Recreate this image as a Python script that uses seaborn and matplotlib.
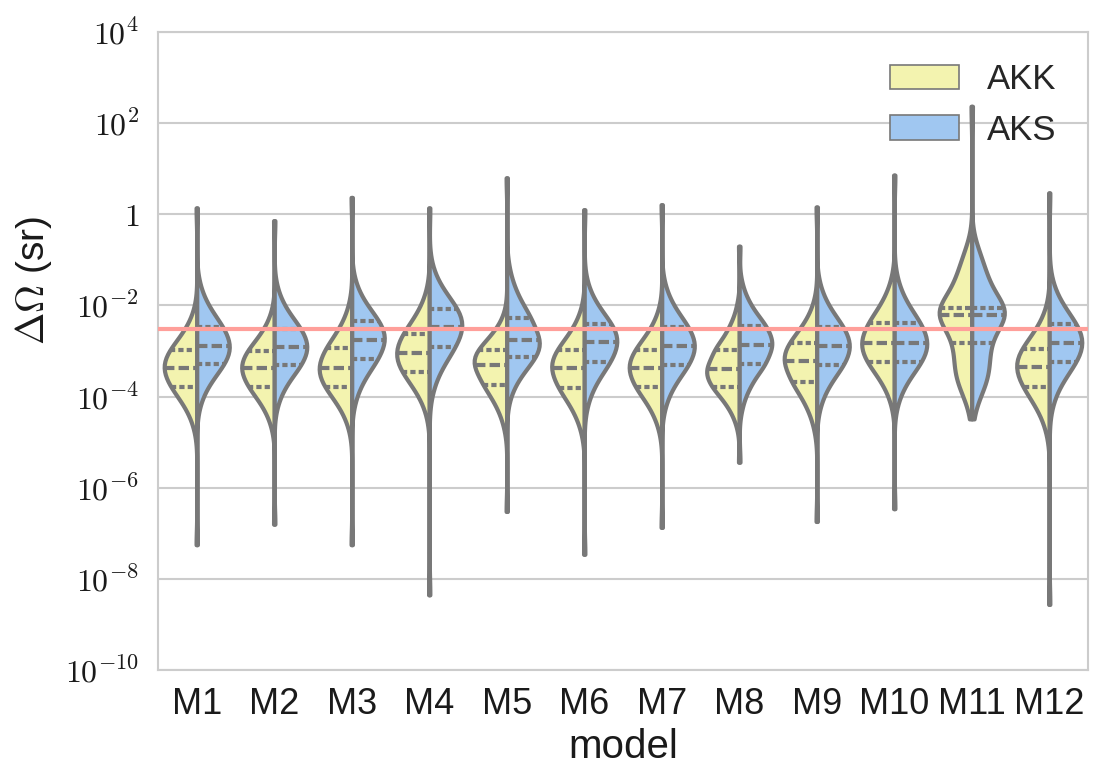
import numpy as np
import pandas as pd
import seaborn as sns
import matplotlib.pyplot as plt

# log10 of solid angle error (sr):
# [low end, tail, shoulder, q1, median, q3, shoulder, tail, high end]
models = ["M1", "M2", "M3", "M4", "M5", "M6", "M7", "M8", "M9", "M10", "M11", "M12"]

akk = [
    [-7.25, -4.60, -4.19, -3.78, -3.37, -2.98, -2.59, -2.20, 0.14],
    [-6.80, -4.58, -4.18, -3.78, -3.38, -3.00, -2.62, -2.24, -0.14],
    [-7.25, -4.60, -4.19, -3.78, -3.37, -2.94, -2.51, -2.08, 0.37],
    [-8.35, -4.28, -3.87, -3.46, -3.05, -2.63, -2.21, -1.79, 0.14],
    [-6.52, -4.60, -4.17, -3.74, -3.31, -2.98, -2.65, -2.32, 0.80],
    [-7.46, -4.70, -4.26, -3.82, -3.38, -2.98, -2.58, -2.18, 0.10],
    [-6.87, -4.64, -4.22, -3.80, -3.38, -2.98, -2.58, -2.18, 0.21],
    [-5.44, -4.54, -4.16, -3.78, -3.40, -2.97, -2.54, -2.11, -0.70],
    [-6.74, -4.61, -4.15, -3.69, -3.23, -2.83, -2.43, -2.03, 0.16],
    [-6.46, -4.08, -3.66, -3.24, -2.82, -2.38, -1.94, -1.50, 0.86],
    [-4.49, -3.85, -3.40, -2.83, -2.22, -2.06, -1.50, -0.95, 2.37],
    [-8.56, -4.68, -4.24, -3.80, -3.36, -2.96, -2.56, -2.16, 0.47],
]

aks = [
    [-7.25, -4.09, -3.69, -3.29, -2.89, -2.47, -2.05, -1.63, 0.14],
    [-6.80, -4.11, -3.71, -3.31, -2.91, -2.51, -2.11, -1.71, -0.14],
    [-7.25, -4.04, -3.61, -3.18, -2.75, -2.35, -1.95, -1.55, 0.37],
    [-8.35, -3.82, -3.37, -2.92, -2.47, -2.07, -1.67, -1.27, 0.14],
    [-6.52, -3.92, -3.53, -3.14, -2.75, -2.27, -1.79, -1.31, 0.80],
    [-7.46, -4.10, -3.67, -3.24, -2.81, -2.41, -2.01, -1.61, 0.10],
    [-6.87, -4.15, -3.73, -3.31, -2.89, -2.47, -2.05, -1.63, 0.21],
    [-5.44, -4.15, -3.72, -3.29, -2.86, -2.45, -2.04, -1.63, -0.70],
    [-6.74, -4.15, -3.73, -3.31, -2.89, -2.47, -2.05, -1.63, 0.16],
    [-6.46, -4.08, -3.66, -3.24, -2.82, -2.38, -1.94, -1.50, 0.86],
    [-4.49, -3.85, -3.40, -2.83, -2.22, -2.06, -1.50, -0.95, 2.37],
    [-8.56, -4.08, -3.66, -3.24, -2.82, -2.41, -2.00, -1.59, 0.47],
]

# how many samples each value above stands for
weights = [1, 3, 10, 23, 30, 23, 10, 3, 1]
weights_m11 = [1, 8, 14, 15, 24, 15, 14, 8, 1]  # M11 is much broader

threshold = 3e-3  # sr, horizontal reference line

ytick_vals = [-10, -8, -6, -4, -2, 0, 2, 4]
ytick_labels = [r"$10^{-10}$", r"$10^{-8}$", r"$10^{-6}$", r"$10^{-4}$",
                r"$10^{-2}$", r"$1$", r"$10^{2}$", r"$10^{4}$"]

rows = []
for model, a, b in zip(models, akk, aks):
    wts = weights_m11 if model == "M11" else weights
    for kind, vals in (("AKK", a), ("AKS", b)):
        for v, w in zip(vals, wts):
            rows += [(model, kind, v)] * w
df = pd.DataFrame(rows, columns=["model", "kind", "log_omega"])

sns.set_style("whitegrid", {"grid.color": ".8", "axes.edgecolor": ".8"})
plt.rcParams["font.family"] = ["Liberation Sans", "DejaVu Sans"]
plt.rcParams["mathtext.fontset"] = "cm"

fig = plt.figure(figsize=(11.04, 7.8), dpi=100)
ax = fig.add_axes([0.1431, 0.141, 0.8424, 0.818])

sns.violinplot(data=df, x="model", y="log_omega", hue="kind",
               hue_order=["AKK", "AKS"], order=models, split=True,
               inner="quart", palette=["#FFFEA3", "#92C6FF"],
               saturation=0.75, linecolor="#787878", linewidth=3,
               inner_kws=dict(linewidth=3),
               cut=0, bw_method=0.4, density_norm="width", width=0.84, ax=ax)

# thicker outlines and quartile lines, like the original
for c in ax.collections:
    c.set_linewidth(3)
for ln in ax.lines:
    ln.set_linewidth(3)

ax.axhline(np.log10(threshold), color="#FF9F9A", lw=3, zorder=10)

ax.set_ylim(-10, 4)
ax.set_yticks(ytick_vals)
ax.set_yticklabels(ytick_labels, fontsize=23)
ax.tick_params(axis="y", pad=10)
ax.tick_params(axis="x", labelsize=26, pad=9)
for lab in ax.get_xticklabels():
    lab.set_color(".1")
for lab in ax.get_yticklabels():
    lab.set_color(".1")
for s in ax.spines.values():
    s.set_linewidth(1.5)
ax.grid(axis="y", lw=1.5)

ax.set_xlabel("model", fontsize=29, color=".1")
ax.set_ylabel(r"$\Delta\Omega$ (sr)", fontsize=28, color=".1")
ax.yaxis.set_label_coords(-0.112, 0.61)

handles, labels = ax.get_legend_handles_labels()
for h in handles:
    h.set_linewidth(1.2)
ax.legend(handles, labels, loc="upper right", frameon=False, fontsize=25)

fig.savefig("out.png", dpi=100)
